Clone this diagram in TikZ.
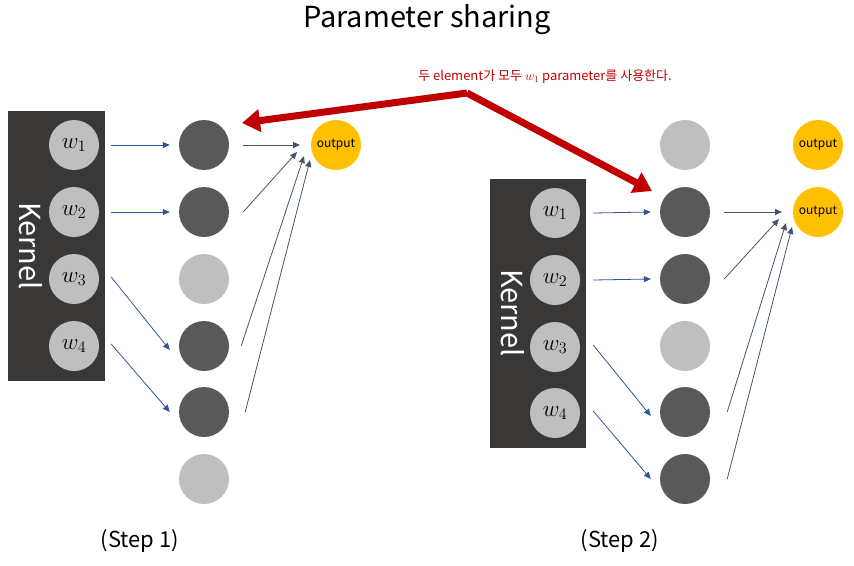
\documentclass[tikz,border=0pt]{standalone}
\usepackage{fix-cm}
\usepackage{fontspec}
\setmainfont{Noto Sans CJK KR}
\usetikzlibrary{arrows.meta}
\definecolor{kern}{HTML}{3A3836}
\definecolor{dark}{HTML}{595959}
\definecolor{light}{HTML}{BFBFBF}
\definecolor{outc}{HTML}{FFC000}
\definecolor{blu}{HTML}{2F5597}
\definecolor{slate}{HTML}{44546A}
\definecolor{redc}{HTML}{C00000}
\begin{document}
\begin{tikzpicture}[x=1pt,y=-1pt,
  wnode/.style={circle,fill=light,minimum size=50pt,inner sep=0pt,font=\fontsize{23}{25}\selectfont},
  dnode/.style={circle,fill=dark,minimum size=50pt,inner sep=0pt},
  lnode/.style={circle,fill=light,minimum size=50pt,inner sep=0pt},
  onode/.style={circle,fill=outc,minimum size=50pt,inner sep=0pt,font=\fontsize{12}{14}\selectfont},
  kbox/.style={fill=kern,inner sep=0pt,anchor=north west},
  inarr/.style={draw=blu,line width=0.8pt,-{Triangle[length=7pt,width=6pt]}},
  outarr/.style={draw=slate,line width=0.8pt,-{Triangle[length=7pt,width=6pt]}},
  bigarr/.style={draw=redc,line width=7pt,-{Triangle[length=18pt,width=22pt]}},
  ktext/.style={text=white,rotate=-90,font=\fontsize{29}{32}\selectfont},
  steplab/.style={font=\fontsize{22}{26}\selectfont}
]
\useasboundingbox (0,0) rectangle (854,565);
\node[font=\fontsize{29}{34}\selectfont] (title) at (427,20) {Parameter sharing};

% Step 1
\node[kbox,minimum width=97pt,minimum height=270pt] (kA) at (8,111) {};
\node[ktext] (ktA) at (31,246) {Kernel};
\node[wnode] (wA1) at (74,145) {$w_1$};
\node[wnode] (wA2) at (74,212) {$w_2$};
\node[wnode] (wA3) at (74,279) {$w_3$};
\node[wnode] (wA4) at (74,346) {$w_4$};
\node[dnode] (mA1) at (204,145) {};
\node[dnode] (mA2) at (204,212) {};
\node[lnode] (mA3) at (204,279) {};
\node[dnode] (mA4) at (204,346) {};
\node[dnode] (mA5) at (204,412) {};
\node[lnode] (mA6) at (204,479) {};
\node[onode] (oA) at (336,145) {output};
\coordinate (oAa) at (300,145);
\coordinate (oAb) at (297,152);
\coordinate (oAc) at (304,156);
\coordinate (oAd) at (310,160);
\draw[inarr] ([xshift=12pt]wA1.east) -- ([xshift=-9pt]mA1.west);
\draw[inarr] ([xshift=12pt]wA2.east) -- ([xshift=-9pt]mA2.west);
\draw[inarr] ([shift={(12pt,2pt)}]wA3.east) -- ([shift={(-9pt,-4pt)}]mA4.west);
\draw[inarr] ([shift={(12pt,2pt)}]wA4.east) -- ([shift={(-9pt,0pt)}]mA5.west);
\draw[outarr] ([xshift=14pt]mA1.east) -- (oAa);
\draw[outarr] ([xshift=14pt]mA2.east) -- (oAb);
\draw[outarr] ([xshift=12pt]mA4.east) -- (oAc);
\draw[outarr] ([xshift=16pt]mA5.east) -- (oAd);

% Step 2
\node[kbox,minimum width=96pt,minimum height=269pt] (kB) at (490,179) {};
\node[ktext] (ktB) at (513,313) {Kernel};
\node[wnode] (wB1) at (555,213) {$w_1$};
\node[wnode] (wB2) at (555,280) {$w_2$};
\node[wnode] (wB3) at (555,347) {$w_3$};
\node[wnode] (wB4) at (555,413) {$w_4$};
\node[lnode] (mB1) at (685,145) {};
\node[dnode] (mB2) at (685,212) {};
\node[dnode] (mB3) at (685,279) {};
\node[lnode] (mB4) at (685,346) {};
\node[dnode] (mB5) at (685,412) {};
\node[dnode] (mB6) at (685,479) {};
\node[onode] (oB1) at (818,145) {output};
\node[onode] (oB2) at (818,212) {output};
\coordinate (oBa) at (782,212);
\coordinate (oBb) at (779,219);
\coordinate (oBc) at (786,223);
\coordinate (oBd) at (792,227);
\draw[inarr] ([xshift=13pt]wB1.east) -- ([xshift=-9pt]mB2.west);
\draw[inarr] ([xshift=13pt]wB2.east) -- ([xshift=-9pt]mB3.west);
\draw[inarr] ([shift={(13pt,2pt)}]wB3.east) -- ([shift={(-9pt,-4pt)}]mB5.west);
\draw[inarr] ([shift={(13pt,2pt)}]wB4.east) -- ([shift={(-9pt,0pt)}]mB6.west);
\draw[outarr] ([xshift=14pt]mB2.east) -- (oBa);
\draw[outarr] ([xshift=14pt]mB3.east) -- (oBb);
\draw[outarr] ([xshift=17pt]mB5.east) -- (oBc);
\draw[outarr] ([xshift=17pt]mB6.east) -- (oBd);

% shared-parameter annotation
\node[text=redc,font=\fontsize{13}{15}\selectfont] (note) at (545,77) {두 element가 모두 $w_1$ parameter를 사용한다.};
\coordinate (bend) at (467,93);
\draw[bigarr] (bend) -- (242,123);
\draw[bigarr] (bend) -- (652,191);

\node[steplab] (s1) at (140,541) {(Step 1)};
\node[steplab] (s2) at (620,541) {(Step 2)};
\end{tikzpicture}
\end{document}
